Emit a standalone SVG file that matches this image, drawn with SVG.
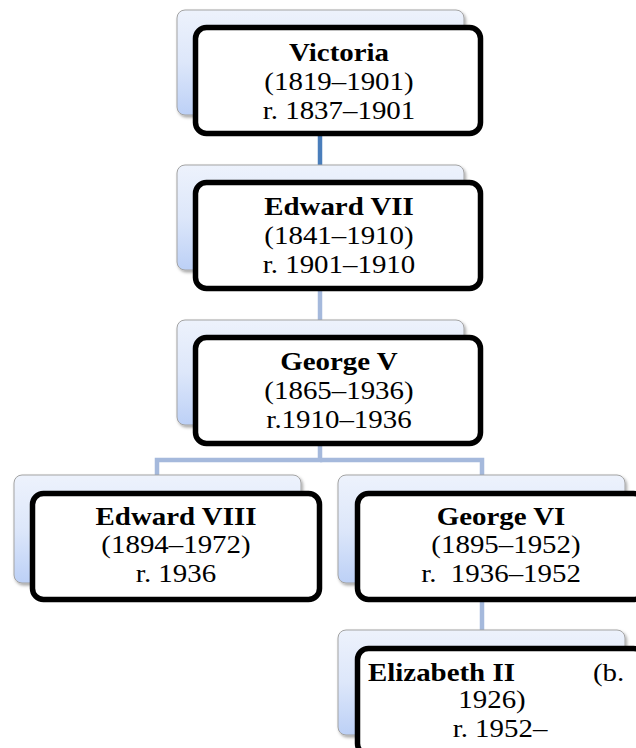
<svg xmlns="http://www.w3.org/2000/svg" width="636" height="748" viewBox="0 0 636 748">
<defs>
<linearGradient id="bg" x1="0" y1="0" x2="0" y2="1">
<stop offset="0" stop-color="#edf2fc"/>
<stop offset="0.5" stop-color="#dde7fa"/>
<stop offset="1" stop-color="#bcd0f6"/>
</linearGradient>
<filter id="sh" x="-5%" y="-5%" width="115%" height="120%">
<feDropShadow dx="1.5" dy="2" stdDeviation="1.5" flood-color="#000" flood-opacity="0.35"/>
</filter>
</defs>
<style>
.back{fill:url(#bg);stroke:#a3a3a3;stroke-width:1;filter:url(#sh)}
.front{fill:#fff;stroke:#000;stroke-width:5.5}
.t{font-family:"Liberation Serif","Times New Roman",serif;font-size:24.5px;fill:#000;text-anchor:middle}
.b{font-weight:bold}
.c{fill:none;stroke:#a5b9dc;stroke-width:4.5}
.c1{stroke:#4a7ebb}
</style>
<g id="connectors">
<line class="c c1" x1="320" y1="134" x2="320" y2="166"/>
<line class="c" x1="320" y1="289" x2="320" y2="321"/>
<polyline class="c" points="320,443 320,460 157,460 157,476"/>
<polyline class="c" points="320,460 482,460 482,476"/>
<line class="c" x1="482" y1="599" x2="482" y2="631"/>
</g>
<g id="victoria">
<rect class="back" x="177" y="10" width="287" height="105" rx="8"/>
<rect class="front" x="195.5" y="27.5" width="285" height="106" rx="11"/>
<text class="t b" transform="translate(339 61) scale(1.18 1)">Victoria</text>
<text class="t" transform="translate(339 90) scale(1.18 1)">(1819–1901)</text>
<text class="t" transform="translate(339 119) scale(1.18 1)">r. 1837–1901</text>
</g>
<g id="edward7">
<rect class="back" x="177" y="165" width="287" height="105" rx="8"/>
<rect class="front" x="195.5" y="182.5" width="285" height="106" rx="11"/>
<text class="t b" transform="translate(339 215) scale(1.18 1)">Edward VII</text>
<text class="t" transform="translate(339 244) scale(1.18 1)">(1841–1910)</text>
<text class="t" transform="translate(339 273) scale(1.18 1)">r. 1901–1910</text>
</g>
<g id="george5">
<rect class="back" x="177" y="320" width="287" height="105" rx="8"/>
<rect class="front" x="195.5" y="337.5" width="285" height="106" rx="11"/>
<text class="t b" transform="translate(339 370) scale(1.18 1)">George V</text>
<text class="t" transform="translate(339 399) scale(1.18 1)">(1865–1936)</text>
<text class="t" transform="translate(339 428) scale(1.18 1)">r.1910–1936</text>
</g>
<g id="edward8">
<rect class="back" x="14" y="475" width="287" height="108" rx="8"/>
<rect class="front" x="32.5" y="493.5" width="287" height="106" rx="11"/>
<text class="t b" transform="translate(176 525) scale(1.18 1)">Edward VIII</text>
<text class="t" transform="translate(176 553) scale(1.18 1)">(1894–1972)</text>
<text class="t" transform="translate(176 582) scale(1.18 1)">r. 1936</text>
</g>
<g id="george6">
<rect class="back" x="338" y="475" width="287" height="108" rx="8"/>
<rect class="front" x="357.5" y="493.5" width="287" height="106" rx="11"/>
<text class="t b" transform="translate(501 525) scale(1.18 1)">George VI</text>
<text class="t" transform="translate(506 553) scale(1.18 1)">(1895–1952)</text>
<text class="t" transform="translate(501 582) scale(1.18 1)">r.&#160; 1936–1952</text>
</g>
<g id="elizabeth2">
<rect class="back" x="338" y="630" width="287" height="105" rx="8"/>
<rect class="front" x="357.5" y="648.5" width="287" height="106" rx="11"/>
<text class="t b" style="text-anchor:start" transform="translate(368 681) scale(1.18 1)">Elizabeth II</text>
<text class="t" style="text-anchor:start" transform="translate(593 681) scale(1.18 1)">(b.</text>
<text class="t" transform="translate(492 708) scale(1.18 1)">1926)</text>
<text class="t" transform="translate(500 737) scale(1.18 1)">r. 1952–</text>
</g>
</svg>
